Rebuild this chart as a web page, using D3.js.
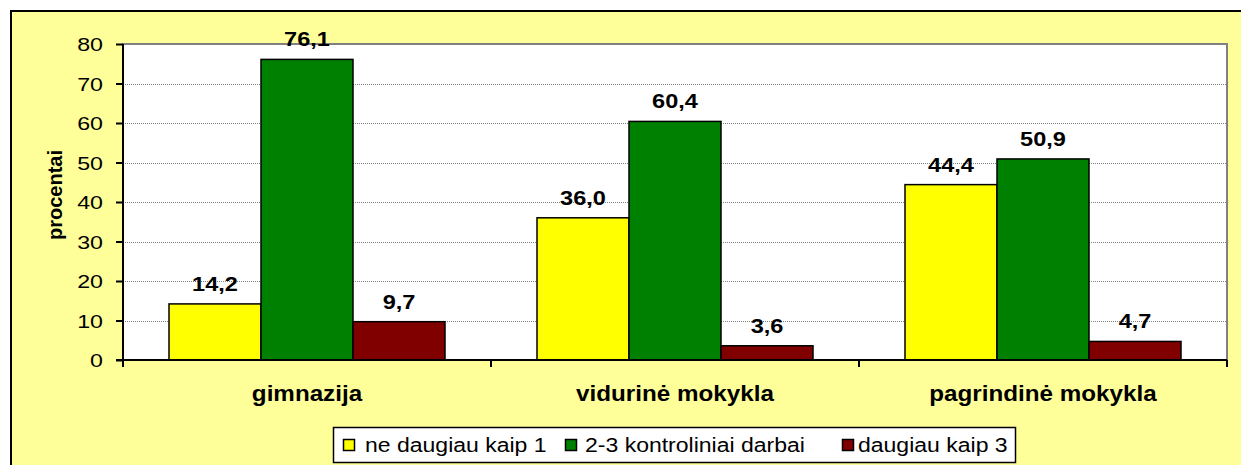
<!DOCTYPE html>
<html><head><meta charset="utf-8">
<script src="https://cdn.jsdelivr.net/npm/d3@7"></script>
<style>body{margin:0;background:#fff}svg{display:block}text{font-family:Arial,"Liberation Sans",sans-serif}</style>
</head><body><svg id="c" width="1241" height="465"></svg>
<script>
const categories = ["gimnazija", "vidurinė mokykla", "pagrindinė mokykla"];
const seriesNames = ["ne daugiau kaip 1", "2-3 kontroliniai darbai", "daugiau kaip 3"];
const series1 = [14.2, 36.0, 44.4];
const series2 = [76.1, 60.4, 50.9];
const series3 = [9.7, 3.6, 4.7];
const yTicks = [0, 10, 20, 30, 40, 50, 60, 70, 80];
const colors = ["#FFFF00", "#008000", "#800000"];
const seriesData = [series1, series2, series3];

const FONT = "Arial,'Liberation Sans',sans-serif";
function stretch(sel, k) {
  sel.each(function () {
    const len = this.getComputedTextLength();
    d3.select(this).attr("textLength", len * k).attr("lengthAdjust", "spacingAndGlyphs");
  });
}

const svg = d3.select("#c");
const W = 1241, H = 465;
svg.append("rect").attr("x", 11).attr("y", 11).attr("width", W + 10).attr("height", H + 10)
  .attr("fill", "#FFFF99").attr("stroke", "#000").attr("stroke-width", 2);

const m = {l: 123, t: 44, r: 1227, b: 360};
const x0 = d3.scaleBand().domain(categories).range([m.l, m.r]).padding(0);
const x1 = d3.scaleBand().domain(d3.range(3))
  .range([x0.bandwidth() * 0.125, x0.bandwidth() * 0.875]).padding(0);
const y = d3.scaleLinear().domain([0, 80]).range([m.b, m.t]);

svg.append("rect").attr("x", m.l).attr("y", m.t).attr("width", m.r - m.l).attr("height", m.b - m.t)
  .attr("fill", "#fff").attr("stroke", "#808080").attr("stroke-width", 2);

svg.append("g").selectAll("line").data(yTicks.filter(d => d > 0 && d < 80)).join("line")
  .attr("x1", m.l).attr("x2", m.r).attr("y1", d => Math.round(y(d)) + 0.5).attr("y2", d => Math.round(y(d)) + 0.5)
  .attr("stroke", "#808080").attr("stroke-width", 1).attr("stroke-dasharray", "1,1");

const g = svg.append("g");
categories.forEach((c, ci) => {
  seriesData.forEach((s, si) => {
    const v = s[ci];
    const bx = x0(c) + x1(si);
    g.append("rect").attr("x", bx).attr("y", y(v)).attr("width", x1.bandwidth()).attr("height", y(0) - y(v))
      .attr("fill", colors[si]).attr("stroke", "#000").attr("stroke-width", 1.5);
    g.append("text").attr("class", "vl").attr("x", bx + x1.bandwidth() / 2).attr("y", y(v) - 13)
      .attr("text-anchor", "middle").attr("font-weight", "bold").attr("font-size", 21)
      .text(d3.format(".1f")(v).replace(".", ","));
  });
});
stretch(g.selectAll(".vl"), 1.12);

const ya = svg.append("g").attr("transform", `translate(${m.l},0)`)
  .call(d3.axisLeft(y).tickValues(yTicks).tickSize(7).tickPadding(13).tickFormat(d3.format("d")));
ya.select(".domain").attr("stroke", "#000").attr("stroke-width", 2).attr("d", `M0,${m.t}V${m.b}`);
ya.selectAll(".tick line").attr("stroke", "#000").attr("stroke-width", 2);
ya.selectAll("text").attr("font-size", 19).attr("fill", "#000").attr("font-family", FONT).attr("dy", "0.36em");
stretch(ya.selectAll("text"), 1.22);

const xa = svg.append("g").attr("transform", `translate(0,${m.b})`);
xa.append("line").attr("x1", m.l - 7).attr("x2", m.r).attr("y1", 0).attr("y2", 0).attr("stroke", "#000").attr("stroke-width", 2);
const bounds = [m.l, ...categories.map(c => x0(c) + x0.bandwidth())];
xa.selectAll(".xt").data(bounds).join("line").attr("class", "xt")
  .attr("x1", d => d).attr("x2", d => d).attr("y1", 0).attr("y2", 7).attr("stroke", "#000").attr("stroke-width", 2);
xa.selectAll(".xl").data(categories).join("text").attr("class", "xl")
  .attr("x", d => x0(d) + x0.bandwidth() / 2).attr("y", 41).attr("text-anchor", "middle")
  .attr("font-weight", "bold").attr("font-size", 22).text(d => d);
stretch(xa.selectAll(".xl"), 1.1);

svg.append("text").attr("transform", `translate(62,195) rotate(-90)`)
  .attr("text-anchor", "middle").attr("font-weight", "bold").attr("font-size", 20).text("procentai");

const lg = svg.append("g");
lg.append("rect").attr("x", 333.5).attr("y", 427.5).attr("width", 682).attr("height", 35)
  .attr("fill", "#fff").attr("stroke", "#000").attr("stroke-width", 1.5);
const legSq = [343, 565, 842];
const legTx = [365, 585, 858];
seriesNames.forEach((n, i) => {
  lg.append("rect").attr("x", legSq[i] + 0.5).attr("y", 439.5).attr("width", 11).attr("height", 11)
    .attr("fill", colors[i]).attr("stroke", "#000").attr("stroke-width", 1.5);
  lg.append("text").attr("class", "lt").attr("x", legTx[i]).attr("y", 452).attr("font-size", 20).text(n);
});
stretch(lg.selectAll(".lt"), 1.15);
</script></body></html>
